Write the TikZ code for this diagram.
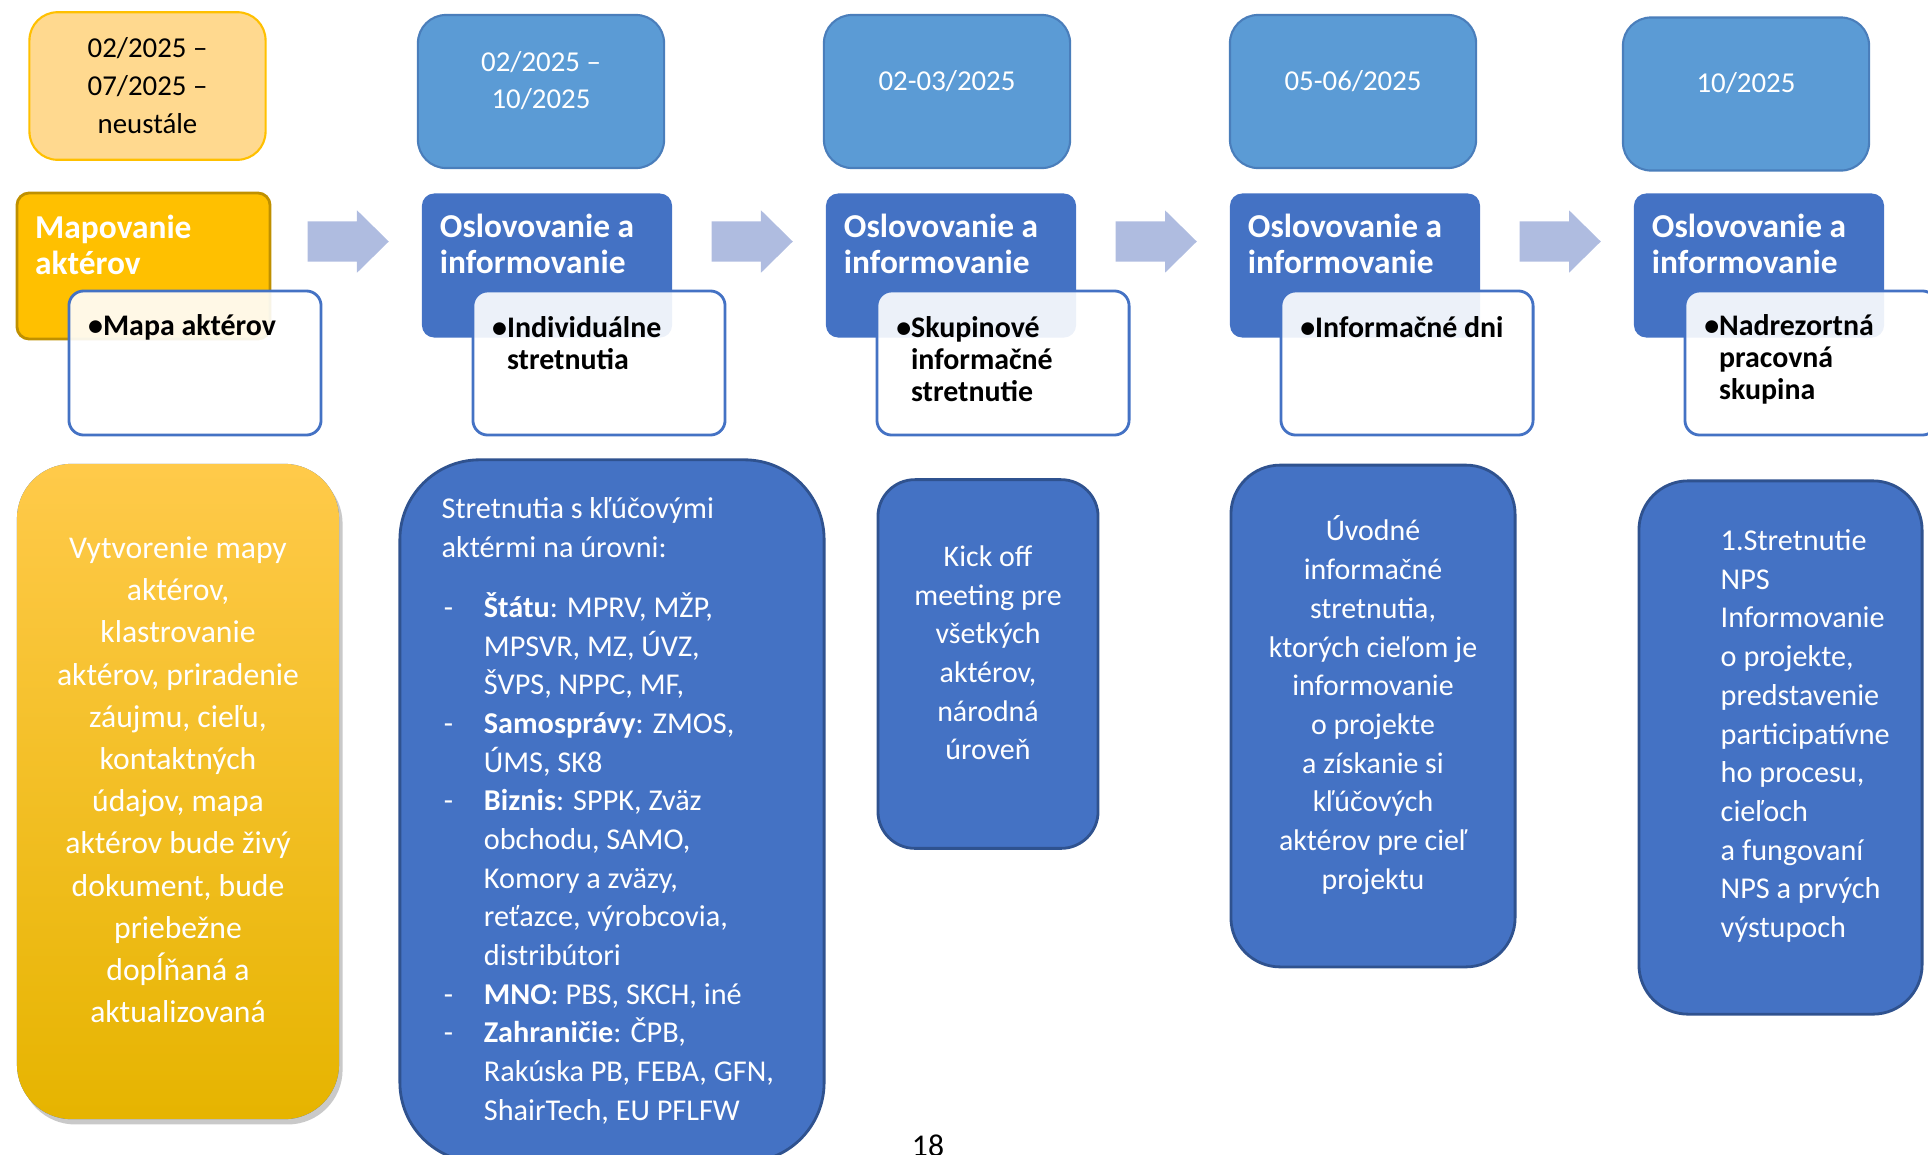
\documentclass[tikz,border=0pt]{standalone}
\usepackage{fontspec}
\setmainfont{Carlito}
\usetikzlibrary{shapes.arrows,shadows}

\definecolor{dateblue}{HTML}{5B9BD5}
\definecolor{dateline}{HTML}{4A7EBB}
\definecolor{dateyellow}{HTML}{FFD98F}
\definecolor{goldline}{HTML}{FFC000}
\definecolor{stepblue}{HTML}{4472C4}
\definecolor{stepline}{HTML}{2F528F}
\definecolor{stepgold}{HTML}{FFC000}
\definecolor{stepgoldline}{HTML}{BF9000}
\definecolor{arrowgray}{HTML}{AFBCE0}
\definecolor{goldtop}{HTML}{FFCA4A}
\definecolor{goldmid}{HTML}{FFC300}
\definecolor{goldbot}{HTML}{E6B400}

% dash and indent for the list of actors
\newcommand{\dashitem}{\makebox[12pt][l]{\hspace{0.6pt}-}}
\newcommand{\dashgap}{\hspace*{12pt}}

\begin{document}
\begin{tikzpicture}[x=0.01cm, y=-0.01cm,
  datebox/.style={rounded corners=8pt, fill=dateblue, draw=dateline, line width=0.6pt,
    minimum width=2.46cm, minimum height=1.53cm, inner sep=0pt},
  datetext/.style={text=white, font=\fontsize{8.2}{10.8}\selectfont, align=center, inner sep=0pt},
  titlebox/.style={rounded corners=3.5pt, fill=stepblue, minimum width=2.50cm,
    minimum height=1.44cm, inner sep=0pt},
  titletext/.style={text=white, font=\fontsize{9.5}{10.2}\selectfont\bfseries, align=left,
    anchor=west, inner sep=0pt},
  subbox/.style={rounded corners=4.2pt, fill=white, fill opacity=0.9, draw=stepblue,
    line width=0.8pt, minimum width=2.52cm, minimum height=1.44cm, inner sep=0pt},
  subtext/.style={font=\fontsize{8.5}{9.1}\selectfont\bfseries, align=left, anchor=west, inner sep=0pt},
  nextarrow/.style={single arrow, fill=arrowgray, minimum height=0.81cm, minimum width=0.61cm,
    single arrow head extend=0.11cm, single arrow tip angle=89, inner xsep=0pt, inner ysep=0.195cm,
    anchor=west},
  infobox/.style={fill=stepblue, draw=stepline, line width=0.8pt, inner sep=0pt},
  infotext/.style={text=white, font=\fontsize{8.6}{11}\selectfont, inner sep=0pt},
]

  % Fix the size of the page
  \useasboundingbox (0,0) rectangle (1928,1154);
  \clip (0,0) rectangle (1928,1154);

  % Draw the date boxes on the top row
  \node[datebox, fill=dateyellow, draw=goldline, minimum width=2.36cm, minimum height=1.475cm] (d1) at (147.5,86) {};
  \node[datebox] (d2) at (541,91.5) {};
  \node[datebox] (d3) at (947,91.5) {};
  \node[datebox] (d4) at (1353,91.5) {};
  \node[datebox] (d5) at (1746,94) {};

  % Add the dates
  \node[datetext, text=black] (d1txt) at (d1.center) {02/2025 –\\07/2025 –\\neustále};
  \node[datetext] (d2txt) at ([yshift=3.1pt]d2.center) {02/2025 –\\10/2025};
  \node[datetext] (d3txt) at ([yshift=3pt]d3.center) {02-03/2025};
  \node[datetext] (d4txt) at ([yshift=3pt]d4.center) {05-06/2025};
  \node[datetext] (d5txt) at ([yshift=3pt]d5.center) {10/2025};

  % Draw the step boxes
  \node[titlebox, fill=stepgold, draw=stepgoldline, line width=0.8pt, minimum width=2.53cm, minimum height=1.46cm] (t1) at (143.5,266) {};
  \node[titlebox] (t2) at (547,265.5) {};
  \node[titlebox] (t3) at (951,265.5) {};
  \node[titlebox] (t4) at (1355,265.5) {};
  \node[titlebox] (t5) at (1759,265.5) {};

  % Add the step names
  \node[titletext] (t1txt) at ([xshift=0.19cm, yshift=0.215cm]t1.west) {Mapovanie\\aktérov};
  \node[titletext] (t2txt) at ([xshift=0.18cm, yshift=0.215cm]t2.west) {Oslovovanie a\\informovanie};
  \node[titletext] (t3txt) at ([xshift=0.18cm, yshift=0.215cm]t3.west) {Oslovovanie a\\informovanie};
  \node[titletext] (t4txt) at ([xshift=0.18cm, yshift=0.215cm]t4.west) {Oslovovanie a\\informovanie};
  \node[titletext] (t5txt) at ([xshift=0.18cm, yshift=0.215cm]t5.west) {Oslovovanie a\\informovanie};

  % Draw the white boxes over the steps
  \node[subbox] (s1) at (195,363) {};
  \node[subbox] (s2) at (599,363) {};
  \node[subbox] (s3) at (1003,363) {};
  \node[subbox] (s4) at (1407,363) {};
  \node[subbox] (s5) at (1811,363) {};

  % Add the bullets
  \node[subtext] (s1txt) at ([xshift=0.2cm, yshift=0.36cm]s1.west) {•Mapa aktérov};
  \node[subtext] (s2txt) at ([xshift=0.2cm, yshift=0.2cm]s2.west) {•Individuálne\\\phantom{•}stretnutia};
  \node[subtext] (s3txt) at ([xshift=0.2cm, yshift=0.035cm]s3.west) {•Skupinové\\\phantom{•}informačné\\\phantom{•}stretnutie};
  \node[subtext] (s4txt) at ([xshift=0.2cm, yshift=0.36cm]s4.west) {•Informačné dni};
  \node[subtext] (s5txt) at ([xshift=0.2cm, yshift=0.035cm]s5.west) {•Nadrezortná\\\phantom{•}pracovná\\\phantom{•}skupina};

  % Draw the arrows between the steps
  \node[nextarrow] (arr1) at (307,241.5) {};
  \node[nextarrow] (arr2) at (711,241.5) {};
  \node[nextarrow] (arr3) at (1115,241.5) {};
  \node[nextarrow] (arr4) at (1519,241.5) {};

  % Draw the boxes with the descriptions
  \node[infobox, draw=none, rounded corners=15.6pt, top color=goldtop, middle color=goldmid, bottom color=goldbot,
    drop shadow={shadow xshift=1pt, shadow yshift=-1.5pt, opacity=0.3, fill=black!70},
    minimum width=3.22cm, minimum height=6.55cm] (l1) at (178,791.5) {};
  \node[infobox, rounded corners=22.7pt, minimum width=4.24cm, minimum height=7.02cm] (l2) at (612,811) {};
  \node[infobox, rounded corners=10.5pt, minimum width=2.20cm, minimum height=3.685cm] (l3) at (988,664) {};
  \node[infobox, rounded corners=14pt, minimum width=2.84cm, minimum height=5.015cm] (l4) at (1373,716) {};
  \node[infobox, rounded corners=14pt, minimum width=2.83cm, minimum height=5.33cm] (l5) at (1780.5,747.5) {};

  % Add the descriptions
  \node[infotext, align=center, font=\fontsize{9}{12}\selectfont] (l1txt) at ([yshift=3.3pt]l1.center)
    {Vytvorenie mapy\\aktérov,\\klastrovanie\\aktérov, priradenie\\záujmu, cieľu,\\kontaktných\\údajov, mapa\\aktérov bude živý\\dokument, bude\\priebežne\\dopĺňaná a\\aktualizovaná};
  \node[infotext, align=left, anchor=west] (l2txt) at (441,811)
    {Stretnutia s kľúčovými\\
     aktérmi na úrovni:\\[6pt]
     \dashitem\textbf{Štátu}: MPRV, MŽP,\\
     \dashgap MPSVR, MZ, ÚVZ,\\
     \dashgap ŠVPS, NPPC, MF,\\
     \dashitem\textbf{Samosprávy}: ZMOS,\\
     \dashgap ÚMS, SK8\\
     \dashitem\textbf{Biznis}: SPPK, Zväz\\
     \dashgap obchodu, SAMO,\\
     \dashgap Komory a zväzy,\\
     \dashgap reťazce, výrobcovia,\\
     \dashgap distribútori\\
     \dashitem\textbf{MNO}: PBS, SKCH, iné\\
     \dashitem\textbf{Zahraničie}: ČPB,\\
     \dashgap Rakúska PB, FEBA, GFN,\\
     \dashgap ShairTech, EU PFLFW};
  \node[infotext, align=center, font=\fontsize{8.5}{11}\selectfont] (l3txt) at ([yshift=3.2pt]l3.center)
    {Kick off\\meeting pre\\všetkých\\aktérov,\\národná\\úroveň};
  \node[infotext, align=center, font=\fontsize{8.5}{11}\selectfont] (l4txt) at ([yshift=3.1pt]l4.center)
    {Úvodné\\informačné\\stretnutia,\\ktorých cieľom je\\informovanie\\o projekte\\a získanie si\\kľúčových\\aktérov pre cieľ\\projektu};
  \node[infotext, align=left, anchor=west] (l5txt) at (1720,736)
    {1.Stretnutie\\NPS\\Informovanie\\o projekte,\\predstavenie\\participatívne\\ho procesu,\\cieľoch\\a fungovaní\\NPS a prvých\\výstupoch};

  % Add the page number
  \node[font=\fontsize{9}{10}\selectfont, anchor=base] (pagenum) at (928,1156) {18};

\end{tikzpicture}
\end{document}
